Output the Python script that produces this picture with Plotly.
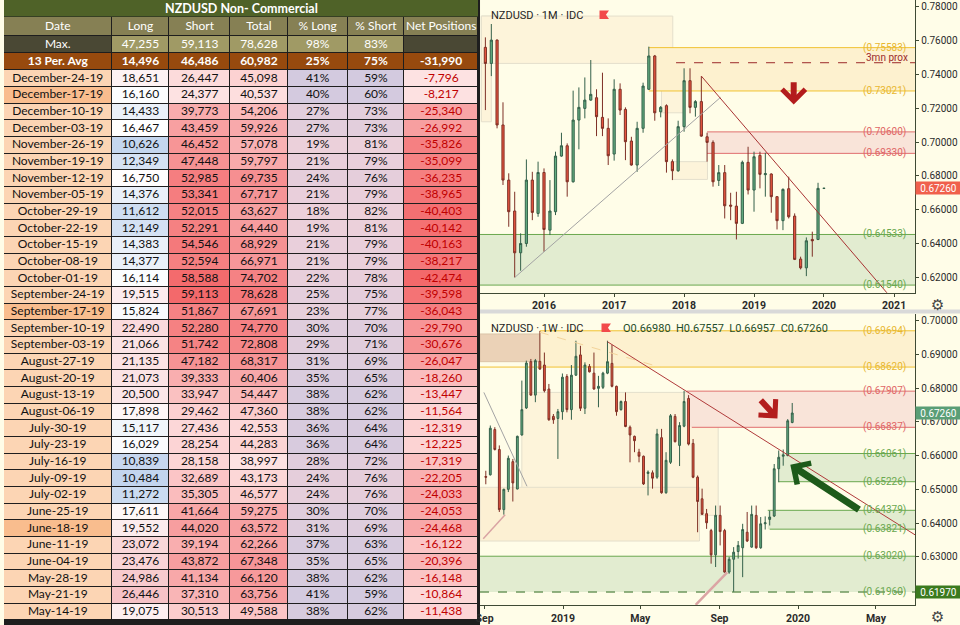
import numpy as np
import pandas as pd
import plotly.graph_objects as go
from plotly.colors import sample_colorscale

W, H = 960, 625

# ---------------- COT table data ----------------
dates = ["December-24-19", "December-17-19", "December-10-19", "December-03-19",
         "November-26-19", "November-19-19", "November-12-19", "November-05-19",
         "October-29-19", "October-22-19", "October-15-19", "October-08-19",
         "October-01-19", "September-24-19", "September-17-19", "September-10-19",
         "September-03-19", "August-27-19", "August-20-19", "August-13-19",
         "August-06-19", "July-30-19", "July-23-19", "July-16-19", "July-09-19",
         "July-02-19", "June-25-19", "June-18-19", "June-11-19", "June-04-19",
         "May-28-19", "May-21-19", "May-14-19"]
long_pos = [18651, 16160, 14433, 16467, 10626, 12349, 16750, 14376, 11612, 12149, 14383,
            14377, 16114, 19515, 15824, 22490, 21066, 21135, 21073, 20500, 17898, 15117,
            16029, 10839, 10484, 11272, 17611, 19552, 23072, 23476, 24986, 26446, 19075]
short_pos = [26447, 24377, 39773, 43459, 46452, 47448, 52985, 53341, 52015, 52291, 54546,
             52594, 58588, 59113, 51867, 52280, 51742, 47182, 39333, 33947, 29462, 27436,
             28254, 28158, 32689, 35305, 41664, 44020, 39194, 43872, 41134, 37310, 30513]
total_pos = [45098, 40537, 54206, 59926, 57078, 59797, 69735, 67717, 63627, 64440, 68929,
             66971, 74702, 78628, 67691, 74770, 72808, 68317, 60406, 54447, 47360, 42553,
             44283, 38997, 43173, 46577, 59275, 63572, 62266, 67348, 66120, 63756, 49588]
pct_long = [41, 40, 27, 27, 19, 21, 24, 21, 18, 19, 21, 21, 22, 25, 23, 30, 29, 31, 35, 38,
            38, 36, 36, 28, 24, 24, 30, 31, 37, 35, 38, 41, 38]
pct_short = [59, 60, 73, 73, 81, 79, 76, 79, 82, 81, 79, 79, 78, 75, 77, 70, 71, 69, 65, 62,
             62, 64, 64, 72, 76, 76, 70, 69, 63, 65, 62, 59, 62]
net_pos = [-7796, -8217, -25340, -26992, -35826, -35099, -36235, -38965, -40403, -40142,
           -40163, -38217, -42474, -39598, -36043, -29790, -30676, -26047, -18260, -13447,
           -11564, -12319, -12225, -17319, -22205, -24033, -24053, -24468, -16122, -20396,
           -16148, -10864, -11438]
max_row = [47255, 59113, 78628, 98, 83]
avg_row = [14496, 46486, 60982, 25, 75, -31990]
highlight_dates = ["December-17-19", "September-17-19", "June-18-19"]
headers = ["Date", "Long", "Short", "Total", "% Long", "% Short", "Net Positions"]
table_title = "NZDUSD Non- Commercial"

# ---------------- monthly candles (Mar 2015 .. Jan 2020) ----------------
m_open = [0.7560, 0.7465, 0.7603, 0.7101, 0.6775, 0.6592, 0.6345, 0.6400, 0.6775, 0.6578,
          0.6820, 0.6479, 0.6588, 0.6917, 0.6978, 0.6765, 0.7130, 0.7199, 0.7248, 0.7262,
          0.7146, 0.7081, 0.6929, 0.7312, 0.7193, 0.7006, 0.6864, 0.7081, 0.7312, 0.7509,
          0.7179, 0.7215, 0.6884, 0.6830, 0.7091, 0.7363, 0.7205, 0.7239, 0.7031, 0.6998,
          0.6773, 0.6819, 0.6627, 0.6621, 0.6519, 0.6880, 0.6716, 0.6921, 0.6807, 0.6811,
          0.6677, 0.6535, 0.6724, 0.6562, 0.6308, 0.6256, 0.6424, 0.6424, 0.6726]
m_high = [0.7619, 0.7698, 0.7607, 0.7235, 0.6815, 0.6706, 0.6460, 0.6897, 0.6824, 0.6884,
          0.6844, 0.6775, 0.6943, 0.7055, 0.6992, 0.7304, 0.7323, 0.7382, 0.7485, 0.7312,
          0.7410, 0.7140, 0.7371, 0.7347, 0.7205, 0.7031, 0.7120, 0.7351, 0.7564, 0.7515,
          0.7213, 0.7223, 0.6897, 0.7126, 0.7436, 0.7436, 0.7248, 0.7390, 0.7055, 0.7010,
          0.6864, 0.6864, 0.6700, 0.6706, 0.6890, 0.6972, 0.6943, 0.6943, 0.6937, 0.6815,
          0.6680, 0.6726, 0.6795, 0.6578, 0.6322, 0.6436, 0.6470, 0.6759, 0.6730]
m_low = [0.7189, 0.7390, 0.7081, 0.6746, 0.6499, 0.6199, 0.6239, 0.6381, 0.6538, 0.6558,
         0.6351, 0.6450, 0.6568, 0.6913, 0.6677, 0.6760, 0.6957, 0.7140, 0.7244, 0.7035,
         0.7035, 0.6864, 0.6890, 0.7160, 0.6893, 0.6860, 0.6824, 0.7055, 0.7308, 0.7126,
         0.7146, 0.6819, 0.6775, 0.6824, 0.7061, 0.7170, 0.7150, 0.7031, 0.6884, 0.6736,
         0.6740, 0.6548, 0.6538, 0.6424, 0.6515, 0.6690, 0.6588, 0.6726, 0.6677, 0.6582,
         0.6483, 0.6479, 0.6548, 0.6302, 0.6247, 0.6207, 0.6322, 0.6420, 0.6722]
m_close = [0.7465, 0.7603, 0.7101, 0.6775, 0.6588, 0.6345, 0.6400, 0.6775, 0.6584, 0.6820,
           0.6483, 0.6592, 0.6917, 0.6978, 0.6765, 0.7130, 0.7205, 0.7248, 0.7282, 0.7150,
           0.7081, 0.6919, 0.7312, 0.7189, 0.7002, 0.6864, 0.7081, 0.7331, 0.7509, 0.7173,
           0.7205, 0.6884, 0.6830, 0.7091, 0.7363, 0.7205, 0.7239, 0.7035, 0.6998, 0.6765,
           0.6819, 0.6623, 0.6621, 0.6519, 0.6880, 0.6716, 0.6913, 0.6809, 0.6813, 0.6677,
           0.6535, 0.6720, 0.6558, 0.6306, 0.6256, 0.6416, 0.6416, 0.6726, 0.6726]
# one bar per calendar month
m_dates = pd.date_range("2015-03-01", periods=len(m_open), freq="MS")

# ---------------- weekly candles (Sep 2018 .. Dec 2019) ----------------
w_open = [0.6538, 0.6543, 0.6677, 0.6618, 0.6440, 0.6500, 0.6582, 0.6501, 0.6661, 0.6741,
          0.6878, 0.6779, 0.6879, 0.6868, 0.6797, 0.6716, 0.6710, 0.6730, 0.6834, 0.6736,
          0.6838, 0.6898, 0.6740, 0.6864, 0.6844, 0.6799, 0.6802, 0.6844, 0.6873, 0.6805,
          0.6736, 0.6760, 0.6684, 0.6657, 0.6610, 0.6598, 0.6547, 0.6549, 0.6536, 0.6653,
          0.6490, 0.6580, 0.6716, 0.6630, 0.6687, 0.6769, 0.6636, 0.6536, 0.6472, 0.6428,
          0.6378, 0.6306, 0.6423, 0.6378, 0.6255, 0.6293, 0.6316, 0.6327, 0.6373, 0.6329,
          0.6423, 0.6327, 0.6398, 0.6411, 0.6421, 0.6561, 0.6598, 0.6600, 0.6698]
w_high = [0.6555, 0.6689, 0.6684, 0.6630, 0.6502, 0.6600, 0.6590, 0.6659, 0.6822, 0.6881,
          0.6886, 0.6886, 0.6969, 0.6905, 0.6812, 0.6723, 0.6738, 0.6843, 0.6841, 0.6868,
          0.6940, 0.6925, 0.6876, 0.6871, 0.6905, 0.6836, 0.6848, 0.6940, 0.6928, 0.6807,
          0.6763, 0.6787, 0.6689, 0.6659, 0.6620, 0.6600, 0.6556, 0.6556, 0.6679, 0.6679,
          0.6610, 0.6723, 0.6723, 0.6699, 0.6792, 0.6779, 0.6649, 0.6541, 0.6502, 0.6442,
          0.6383, 0.6452, 0.6452, 0.6383, 0.6300, 0.6329, 0.6347, 0.6398, 0.6433, 0.6452,
          0.6452, 0.6418, 0.6420, 0.6437, 0.6575, 0.6615, 0.6618, 0.6708, 0.67557]
w_low = [0.6515, 0.6541, 0.6615, 0.6433, 0.6425, 0.6492, 0.6464, 0.6500, 0.6659, 0.6738,
         0.6777, 0.6758, 0.6854, 0.6787, 0.6703, 0.6694, 0.6590, 0.6706, 0.6728, 0.6706,
         0.6836, 0.6732, 0.6723, 0.6846, 0.6795, 0.6743, 0.6797, 0.6841, 0.6802, 0.6718,
         0.6733, 0.6684, 0.6580, 0.6610, 0.6580, 0.6513, 0.6482, 0.6502, 0.6531, 0.6487,
         0.6487, 0.6575, 0.6639, 0.6569, 0.6684, 0.6630, 0.6533, 0.6373, 0.6425, 0.6383,
         0.6280, 0.6270, 0.6334, 0.6253, 0.6250, 0.6197, 0.6295, 0.6240, 0.6344, 0.6327,
         0.6324, 0.6324, 0.6381, 0.6393, 0.6418, 0.6521, 0.6570, 0.6598, 0.66957]
w_close = [0.6536, 0.6681, 0.6618, 0.6440, 0.6500, 0.6592, 0.6519, 0.6657, 0.6736, 0.6874,
           0.6779, 0.6881, 0.6856, 0.6792, 0.6706, 0.6706, 0.6730, 0.6832, 0.6736, 0.6838,
           0.6894, 0.6740, 0.6868, 0.6848, 0.6797, 0.6805, 0.6844, 0.6878, 0.6805, 0.6730,
           0.6760, 0.6686, 0.6661, 0.6644, 0.6598, 0.6516, 0.6551, 0.6533, 0.6664, 0.6490,
           0.6586, 0.6718, 0.6641, 0.6689, 0.6760, 0.6634, 0.6536, 0.6464, 0.6426, 0.6401,
           0.6306, 0.6423, 0.6375, 0.6255, 0.6293, 0.6314, 0.6334, 0.6381, 0.6347, 0.6426,
           0.6327, 0.6398, 0.6401, 0.6418, 0.6561, 0.6595, 0.6602, 0.6703, 0.6726]
# one bar per week (Mondays)
w_dates = pd.date_range("2018-09-03", periods=len(w_open), freq="7D")

# ---------------- drawn levels / zones ----------------
top_levels = [0.75583, 0.73021, 0.70600, 0.69330, 0.64533, 0.61540]
top_level_start = ["2017-07-01", "2017-07-01", "2018-05-01", "2018-05-01",
                   "2015-02-01", "2015-02-01"]
top_level_kind = ["supply", "supply", "resist", "resist", "demand", "demand"]
top_prox = 0.7469

bot_levels = [0.69694, 0.68620, 0.67907, 0.66837, 0.66061, 0.65226, 0.64379, 0.63821,
              0.63020, 0.61960]
bot_level_start = ["2018-11-26", "2018-08-25", "2019-07-12", "2019-07-20", "2019-12-16",
                   "2019-12-02", "2019-11-15", "2019-11-18", "2018-08-25", "2018-08-25"]
bot_level_kind = ["supply", "supply", "resist", "resist", "demand", "demand", "demand",
                  "demand", "demand", "demand"]
bot_low_mark = 0.61970

TOP_X = ["2015-02-01", "2021-04-21"]
TOP_Y = [0.6109, 0.7840]
BOT_X = ["2018-08-25", "2020-07-01"]
BOT_Y = [0.61576, 0.70206]

# ---------------- style ----------------
BG = "#fffde8"
TXT = "#2b2b2b"
AXIS = "#3f4a35"
CHART_FONT = "Roboto"
TABLE_FONT = "Lato"
LEVEL_STYLE = {
    "supply": dict(line="#f1c232", fill="#fdf1cf", text="#e8b730"),
    "resist": dict(line="#e06f6f", fill="#f9e4d9", text="#e06666"),
    "demand": dict(line="#6aa84f", fill="#e2ecd0", text="#6aa84f"),
}
RECT_FILL, RECT_LINE = "#fdf4da", "#e4dfcc"
COL_W = [108, 58, 61, 58, 60, 57, 74]
TITLE_H = 17
ROW_H = [19, 17.3, 17] + [16.67] * len(dates)


def px(x):
    return x / W


def py(y):
    return 1 - y / H


def scaled(vals, scale):
    v = np.asarray(vals, dtype=float)
    t = (v - v.min()) / (v.max() - v.min())
    return sample_colorscale(scale, list(t))


def fmt(v):
    return f"{v:,}"


def note(x, y, text, size, color, family=CHART_FONT, xanchor="center"):
    # paper-referenced text, anchored explicitly
    return dict(xref="paper", yref="paper", x=x, y=y, text=text, showarrow=False,
                xanchor=xanchor, yanchor="middle",
                font=dict(family=family, size=size, color=color))


# ---------------- table (heatmap of cell colours + text) ----------------
MAX_DARK, MAX_KHAKI, AVG_BROWN = "#4a4834", "#a09a65", "#974a0e"
HEAD_BG, TITLE_BG = "#868054", "#4f6228"
PINK_LO, RED_HI = "#fde2e2", "#f3696b"
LAV, MAUVE = "#d3cadf", "#ecd0da"

lmin, lmax = min(long_pos), max(long_pos)
lmid = (float(np.median(long_pos)) - lmin) / (lmax - lmin)
long_scale = [[0, "#c3d5ee"], [lmid, "#ffffff"], [1, "#f6c2c6"]]

col_text = [
    ["Date", "Max.", "<b>13 Per. Avg</b>"] + dates,
    ["Long", fmt(max_row[0]), f"<b>{fmt(avg_row[0])}</b>"] + [fmt(v) for v in long_pos],
    ["Short", fmt(max_row[1]), f"<b>{fmt(avg_row[1])}</b>"] + [fmt(v) for v in short_pos],
    ["Total", fmt(max_row[2]), f"<b>{fmt(avg_row[2])}</b>"] + [fmt(v) for v in total_pos],
    ["% Long", f"{max_row[3]}%", f"<b>{avg_row[3]}%</b>"] + [f"{v}%" for v in pct_long],
    ["% Short", f"{max_row[4]}%", f"<b>{avg_row[4]}%</b>"] + [f"{v}%" for v in pct_short],
    ["Net Positions", "", f"<b>{fmt(avg_row[5])}</b>"] + [fmt(v) for v in net_pos],
]
col_fill = [
    [HEAD_BG, MAX_DARK, AVG_BROWN] + ["#f9bd8e" if d in highlight_dates else "#fcd5b4"
                                      for d in dates],
    [HEAD_BG, MAX_KHAKI, AVG_BROWN] + scaled(long_pos, long_scale),
    [HEAD_BG, MAX_KHAKI, AVG_BROWN] + scaled(short_pos, [[0, PINK_LO], [1, RED_HI]]),
    [HEAD_BG, MAX_KHAKI, AVG_BROWN] + scaled(total_pos, [[0, PINK_LO], [1, "#f4777a"]]),
    [HEAD_BG, MAX_KHAKI, AVG_BROWN] + scaled(pct_long, [[0, MAUVE], [1, LAV]]),
    [HEAD_BG, MAX_KHAKI, AVG_BROWN] + scaled(pct_short, [[0, LAV], [1, MAUVE]]),
    [HEAD_BG, MAX_DARK, AVG_BROWN] + scaled(net_pos, [[0, RED_HI], [1, PINK_LO]]),
]
n_rows = len(ROW_H)
n_cols = len(COL_W)
x_edges = np.concatenate([[0], np.cumsum(COL_W)])
y_edges = np.concatenate([[0], np.cumsum(ROW_H)])
x_mid = (x_edges[:-1] + x_edges[1:]) / 2
y_mid = (y_edges[:-1] + y_edges[1:]) / 2

flat_colors = [col_fill[c][r] for r in range(n_rows) for c in range(n_cols)]
n_cells = len(flat_colors)
cell_scale = [[k / (n_cells - 1), col] for k, col in enumerate(flat_colors)]
z_index = [[r * n_cols + c for c in range(n_cols)] for r in range(n_rows)]

fig = go.Figure()
fig.add_trace(go.Heatmap(x=x_edges, y=y_edges, z=z_index, colorscale=cell_scale,
                         zmin=0, zmax=n_cells - 1, showscale=False, xgap=1, ygap=1,
                         hoverinfo="skip", xaxis="x3", yaxis="y3"))
for c in range(n_cols):
    colors = ["white"] * 3 + (["#c00000"] if c == n_cols - 1 else ["#111111"]) * len(dates)
    fig.add_trace(go.Scatter(x=[x_mid[c]] * n_rows, y=y_mid, mode="text", text=col_text[c],
                             textfont=dict(family=TABLE_FONT, size=12, color=colors),
                             hoverinfo="skip", showlegend=False, xaxis="x3", yaxis="y3"))

# ---------------- candles ----------------
candle_style = dict(
    increasing=dict(fillcolor="#63ad80", line=dict(color="#34604a", width=1)),
    decreasing=dict(fillcolor="#e8553f", line=dict(color="#7e3026", width=1)),
    whiskerwidth=0, showlegend=False, hoverinfo="skip",
)
fig.add_trace(go.Candlestick(x=m_dates, open=m_open, high=m_high, low=m_low, close=m_close,
                             xaxis="x", yaxis="y", **candle_style))
fig.add_trace(go.Candlestick(x=w_dates, open=w_open, high=w_high, low=w_low, close=w_close,
                             xaxis="x2", yaxis="y2", **candle_style))

shapes = []
annotations = []

# table backdrop and title bar
shapes.append(dict(type="rect", xref="paper", yref="paper", x0=0, x1=px(478), y0=0, y1=1,
                   fillcolor="#1e1e1e", line_width=0, layer="below"))
shapes.append(dict(type="rect", xref="paper", yref="paper", x0=0, x1=px(x_edges[-1]),
                   y0=py(TITLE_H - 0.5), y1=1, fillcolor=TITLE_BG, line_width=0))
annotations.append(note(px(x_edges[-1] / 2), py(TITLE_H / 2), f"<b>{table_title}</b>",
                        12.5, "white", family=TABLE_FONT))
# separator between charts
shapes.append(dict(type="rect", xref="paper", yref="paper", x0=px(478), x1=1, y0=py(313.5),
                   y1=py(309.5), fillcolor="#d9d9d9", line_width=0))


def rect(xr, yr, x0, x1, y0, y1, fill=RECT_FILL, line=RECT_LINE):
    shapes.append(dict(type="rect", xref=xr, yref=yr, x0=x0, x1=x1, y0=y0, y1=y1,
                       fillcolor=fill, line=dict(color=line, width=1), layer="below"))


def seg(xr, yr, x0, y0, x1, y1, color, width=1, dash="solid", layer="above"):
    shapes.append(dict(type="line", xref=xr, yref=yr, x0=x0, x1=x1, y0=y0, y1=y1,
                       line=dict(color=color, width=width, dash=dash), layer=layer))


def level_label(yr, v, kind):
    annotations.append(dict(xref="paper", yref=yr, x=px(908), y=v, xanchor="right",
                            yanchor="middle", text=f"({v:.5f})", showarrow=False,
                            font=dict(family=CHART_FONT, size=10,
                                      color=LEVEL_STYLE[kind]["text"])))


def arrow(xr, yr, x, y, ax, ay, color, width, size):
    annotations.append(dict(xref=xr, yref=yr, axref=xr, ayref=yr, x=x, y=y, ax=ax, ay=ay,
                            text="", showarrow=True, arrowhead=4, arrowsize=size,
                            arrowwidth=width, arrowcolor=color, standoff=0))


# ---- top (monthly) drawings ----
rect("x", "y", "2015-02-08", "2015-04-01", 0.7120, 0.7745)
rect("x", "y", "2015-02-08", "2017-11-03", 0.7465, 0.7745)
rect("x", "y", "2017-09-05", "2018-01-01", 0.7173, 0.7436)
rect("x", "y", "2017-11-03", "2018-05-03", 0.6779, 0.6884)
for lo, hi in [(1, 0), (3, 2), (5, 4)]:
    k = top_level_kind[hi]
    rect("x", "y", top_level_start[hi], TOP_X[1], top_levels[lo], top_levels[hi],
         fill=LEVEL_STYLE[k]["fill"], line="rgba(0,0,0,0)")
for v, s, k in zip(top_levels, top_level_start, top_level_kind):
    seg("x", "y", s, v, TOP_X[1], v, LEVEL_STYLE[k]["line"], layer="below")
    level_label("y", v, k)
seg("x", "y", "2017-11-20", top_prox, TOP_X[1], top_prox, "#9c2a2a", dash="dash", layer="below")
annotations.append(dict(xref="paper", yref="y", x=px(910), y=top_prox, xanchor="right",
                        yanchor="middle", yshift=5, text="3mn prox", showarrow=False,
                        font=dict(family=CHART_FONT, size=10, color="#9c2a2a")))
seg("x", "y", "2015-08-01", 0.6199, "2018-07-10", 0.7264, "#a3a3a3")
seg("x", "y", "2018-04-01", 0.7390, "2020-11-27", 0.6105, "#a83232")
arrow("x", "y", "2019-07-27", 0.7222, "2019-07-27", 0.7362, "#b31d1d", 6, 0.75)

# ---- bottom (weekly) drawings ----
rect("x2", "y2", "2018-10-29", "2019-08-30", 0.6423, 0.6787)
rect("x2", "y2", "2018-08-25", "2019-08-01", 0.6347, 0.6506, fill="#fcf0d3")
rect("x2", "y2", "2018-08-25", "2018-11-26", 0.6878, 0.6960, fill="#ebd2b7", line="#dcc4a8")
for lo, hi in [(1, 0), (3, 2), (5, 4), (7, 6), (9, 8)]:
    k = bot_level_kind[hi]
    rect("x2", "y2", bot_level_start[hi if hi != 4 else lo], BOT_X[1], bot_levels[lo],
         bot_levels[hi], fill=LEVEL_STYLE[k]["fill"], line="rgba(0,0,0,0)")
for i, (v, s, k) in enumerate(zip(bot_levels, bot_level_start, bot_level_kind)):
    last = i == len(bot_levels) - 1
    seg("x2", "y2", s, v, BOT_X[1], v, "#2f6b1f" if last else LEVEL_STYLE[k]["line"],
        dash="dash" if last else "solid", layer="below")
    level_label("y2", v, k)
seg("x2", "y2", "2018-11-26", 0.6965, "2019-06-02", 0.6861, "#f3d39a", dash="dash")
seg("x2", "y2", "2018-08-31", 0.6787, "2018-11-06", 0.6509, "#a3a3a3")
seg("x2", "y2", "2018-08-30", 0.6354, "2018-10-03", 0.6425, "#d9a3a3", width=1.5)
seg("x2", "y2", "2019-07-26", 0.6158, "2019-09-13", 0.6254, "#dba4a4", width=2.5)
seg("x2", "y2", "2019-03-11", 0.6937, "2020-07-01", 0.6365, "#b03a3a")
arrow("x2", "y2", "2019-11-30", 0.6710, "2019-11-02", 0.6768, "#b31d1d", 6, 0.75)
arrow("x2", "y2", "2019-12-20", 0.6573, "2020-04-07", 0.6437, "#1d5a1a", 7, 0.7)

# ---- chart headers, flags, price tags, gear icons ----
for gy, label in [(15, "NZDUSD · 1M · IDC"), (328, "NZDUSD · 1W · IDC")]:
    annotations.append(note(px(487), py(gy), label, 11, "#1f1f1f", xanchor="left"))
ohlc = "\u00a0\u00a0".join([f"O{w_open[-1]:.5f}", f"H{w_high[-1]:.5f}",
                            f"L{w_low[-1]:.5f}", f"C{w_close[-1]:.5f}"])
annotations.append(note(px(620), py(328), ohlc, 11, "#1f4d2a", xanchor="left"))
for (fx, fy) in [(598, 10.5), (600, 323.5)]:
    path = (f"M{px(fx)},{py(fy)} L{px(fx + 9.5)},{py(fy)} L{px(fx + 6.5)},{py(fy + 4.2)} "
            f"L{px(fx + 9.5)},{py(fy + 8.5)} L{px(fx)},{py(fy + 8.5)} Z")
    shapes.append(dict(type="path", xref="paper", yref="paper", path=path,
                       fillcolor="#f24a4a", line_width=0))

tags = [("y", m_close[-1], "#f0604c"), ("y2", w_close[-1], "#5a9e76"),
        ("y2", bot_low_mark, "#3b7a1e")]
for yr, v, c in tags:
    annotations.append(dict(xref="paper", yref=yr, x=px(915), y=v, xanchor="left",
                            yanchor="middle", text=f"{v:.5f}", showarrow=False, bgcolor=c,
                            width=43, height=10, borderpad=1,
                            font=dict(family=CHART_FONT, size=10, color="white")))
for gy in [305, 617]:
    annotations.append(note(px(937), py(gy), "⚙", 15, "#444444", family="DejaVu Sans"))

# ---------------- axes ----------------
xdom = [px(478), px(915)]
axis_common = dict(showgrid=False, zeroline=False, showline=True, linecolor=AXIS,
                   linewidth=1, ticks="outside", ticklen=3, tickcolor=AXIS)
bot_ticks = ["2018-09-01", "2019-01-01", "2019-05-01", "2019-09-01", "2020-01-01",
             "2020-05-01"]
bot_ticktext = ["Sep", "2019", "May", "Sep", "2020", "May"]
hidden = dict(visible=False, showgrid=False, zeroline=False, fixedrange=True)

fig.update_layout(
    width=W, height=H, margin=dict(l=0, r=0, t=0, b=0),
    paper_bgcolor=BG, plot_bgcolor="rgba(0,0,0,0)", showlegend=False, boxgap=0.42,
    shapes=shapes, annotations=annotations,
    xaxis=dict(domain=xdom, anchor="y", type="date", range=TOP_X, dtick="M12",
               tick0="2016-01-01", tickformat="%Y", rangeslider=dict(visible=False),
               tickfont=dict(family=CHART_FONT, size=10.5, color=TXT, weight="bold"),
               **axis_common),
    yaxis=dict(domain=[py(292.7), 1], anchor="x", side="right", range=TOP_Y,
               tick0=0.62, dtick=0.02, tickformat=".5f",
               tickfont=dict(family=CHART_FONT, size=10, color=TXT), **axis_common),
    xaxis2=dict(domain=xdom, anchor="y2", type="date", range=BOT_X, tickvals=bot_ticks,
                ticktext=bot_ticktext, rangeslider=dict(visible=False),
                tickfont=dict(family=CHART_FONT, size=10.5, color=TXT, weight="bold"),
                **axis_common),
    yaxis2=dict(domain=[py(605), py(313.5)], anchor="x2", side="right", range=BOT_Y,
                tickvals=[0.63, 0.64, 0.65, 0.66, 0.67, 0.68, 0.69, 0.70], tickformat=".5f",
                tickfont=dict(family=CHART_FONT, size=10, color=TXT), **axis_common),
    xaxis3=dict(domain=[0, px(x_edges[-1])], range=[0, x_edges[-1]], anchor="y3", **hidden),
    yaxis3=dict(domain=[py(TITLE_H + y_edges[-1]), py(TITLE_H)], range=[y_edges[-1], 0],
                anchor="x3", **hidden),
)

fig.write_html("out.html", config={"displayModeBar": False},
               post_script="document.body.style.margin='0px';")
